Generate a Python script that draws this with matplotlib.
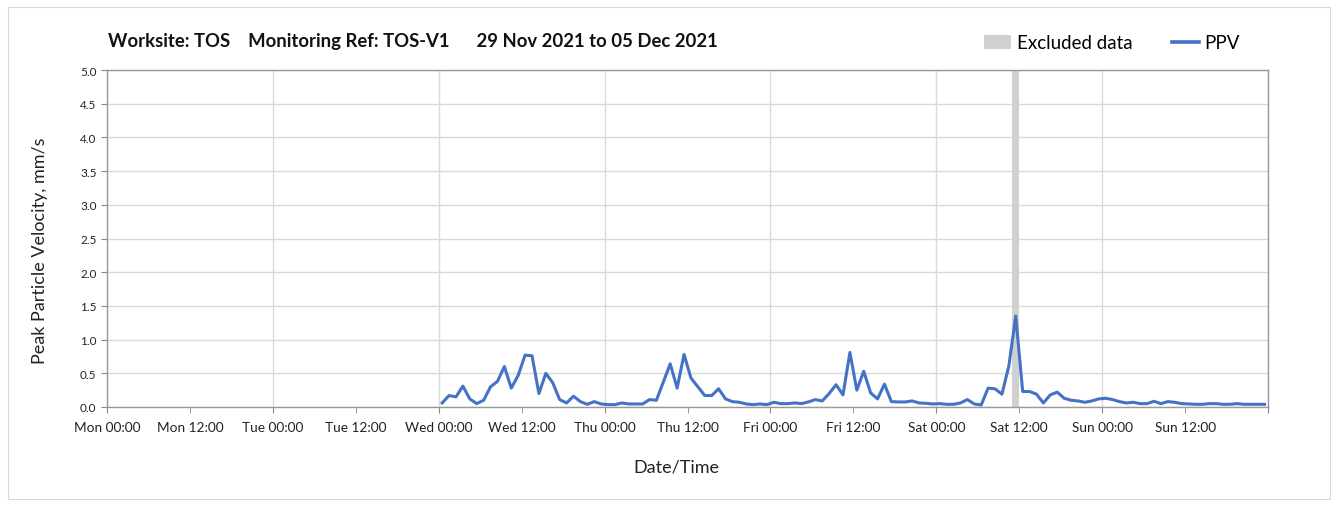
import matplotlib
matplotlib.use("Agg")
import matplotlib.pyplot as plt
import matplotlib.dates as mdates
from matplotlib.patches import Patch, Rectangle
from matplotlib.lines import Line2D
from matplotlib.ticker import FuncFormatter
import pandas as pd

plt.rcParams['font.family'] = ['Lato', 'DejaVu Sans']

title = "Worksite: TOS    Monitoring Ref: TOS-V1      29 Nov 2021 to 05 Dec 2021"
x_label = "Date/Time"
y_label = "Peak Particle Velocity, mm/s"

# Hourly PPV readings (mm/s), first reading Wed 01 Dec 2021 00:30
ppv_start = "2021-12-01 00:30"
ppv_values = [
    0.06, 0.17, 0.15, 0.31, 0.12, 0.05, 0.10, 0.30, 0.38, 0.60,
    0.28, 0.47, 0.77, 0.76, 0.20, 0.50, 0.36, 0.11, 0.06, 0.16,
    0.08, 0.04, 0.08, 0.045, 0.035, 0.035, 0.06, 0.045, 0.045, 0.045,
    0.11, 0.10, 0.37, 0.64, 0.28, 0.78, 0.43, 0.30, 0.17, 0.17,
    0.27, 0.12, 0.08, 0.07, 0.045, 0.035, 0.045, 0.035, 0.07, 0.05,
    0.05, 0.06, 0.05, 0.075, 0.11, 0.09, 0.20, 0.33, 0.18, 0.81,
    0.25, 0.53, 0.21, 0.12, 0.34, 0.08, 0.075, 0.075, 0.09, 0.06,
    0.055, 0.045, 0.05, 0.04, 0.04, 0.06, 0.11, 0.045, 0.03, 0.28,
    0.27, 0.19, 0.61, 1.35, 0.23, 0.23, 0.19, 0.06, 0.18, 0.22,
    0.13, 0.10, 0.09, 0.07, 0.09, 0.12, 0.13, 0.11, 0.08, 0.06,
    0.07, 0.05, 0.05, 0.085, 0.05, 0.08, 0.07, 0.05, 0.045, 0.04,
    0.04, 0.05, 0.05, 0.04, 0.04, 0.05, 0.04, 0.04, 0.04, 0.04,
]
ppv_times = pd.date_range(ppv_start, periods=len(ppv_values), freq="h")

excluded_start = "2021-12-04 11:00"
excluded_end = "2021-12-04 12:00"

x_min = "2021-11-29 00:00"
x_max = "2021-12-06 00:00"
y_ticks = [0.0, 0.5, 1.0, 1.5, 2.0, 2.5, 3.0, 3.5, 4.0, 4.5, 5.0]

line_color = "#4472C4"
band_color = "#D0D0D0"
grid_color = "#D9D9D9"

W, H = 1338, 506
fig = plt.figure(figsize=(W / 100, H / 100), dpi=100)
fig.patches.append(Rectangle((8 / W, 6 / H), 1322 / W, 492 / H, transform=fig.transFigure,
                             fill=False, edgecolor="#D9D9D9", linewidth=0.8))

ax = fig.add_axes([107 / W, 1 - 408 / H, (1268 - 107) / W, (408 - 71) / H])

ax.axvspan(pd.Timestamp(excluded_start), pd.Timestamp(excluded_end), color=band_color, lw=0, zorder=1)
ax.plot(ppv_times, ppv_values, color=line_color, lw=2.2, zorder=3)

ax.set_xlim(pd.Timestamp(x_min), pd.Timestamp(x_max))
ax.set_ylim(0, 5.0)
ax.set_yticks(y_ticks)
ax.set_yticklabels([f"{v:.1f}" for v in y_ticks])

x_end_num = mdates.date2num(pd.Timestamp(x_max))


def label_fmt(x, pos=None):
    if x >= x_end_num - 1e-6:
        return ""
    return mdates.num2date(x).strftime("%a %H:%M")


# midnight ticks carry gridlines, noon ticks only labels
ax.xaxis.set_major_locator(mdates.HourLocator(byhour=[0]))
ax.xaxis.set_minor_locator(mdates.HourLocator(byhour=[12]))
ax.xaxis.set_major_formatter(FuncFormatter(label_fmt))
ax.xaxis.set_minor_formatter(FuncFormatter(label_fmt))
for which in ("major", "minor"):
    ax.tick_params(axis="x", which=which, labelsize=9.8, length=4, color="#888888",
                   labelcolor="#222222", pad=6)
ax.tick_params(axis="y", labelsize=8.5, length=4, color="#888888", labelcolor="#222222")

ax.grid(True, which="major", axis="both", color=grid_color, lw=1.0, zorder=0)
ax.set_axisbelow(True)
for s in ax.spines.values():
    s.set_color("#999999")
    s.set_linewidth(1.0)

ax.set_xlabel(x_label, fontsize=13, color="#222222", va="center")
ax.xaxis.set_label_coords((676 - 107) / 1161, (408 - 468) / 337)
ax.set_ylabel(y_label, fontsize=13, color="#222222", va="center")
ax.yaxis.set_label_coords((40 - 107) / 1161, (408 - 251) / 337)

fig.text(108 / W, 1 - 42 / H, title, fontsize=13.3, fontweight="bold", ha="left", va="center", color="#111111")

handles = [Patch(facecolor=band_color, edgecolor="none"),
           Line2D([0], [0], color=line_color, lw=2.6)]
fig.legend(handles, ["Excluded data", "PPV"], loc="center right", bbox_to_anchor=(1240 / W, 1 - 44 / H),
           ncol=2, frameon=False, fontsize=13.5, handlelength=1.45, handletextpad=0.3, columnspacing=2.1,
           borderaxespad=0, borderpad=0)

fig.savefig("out.png", dpi=100)
